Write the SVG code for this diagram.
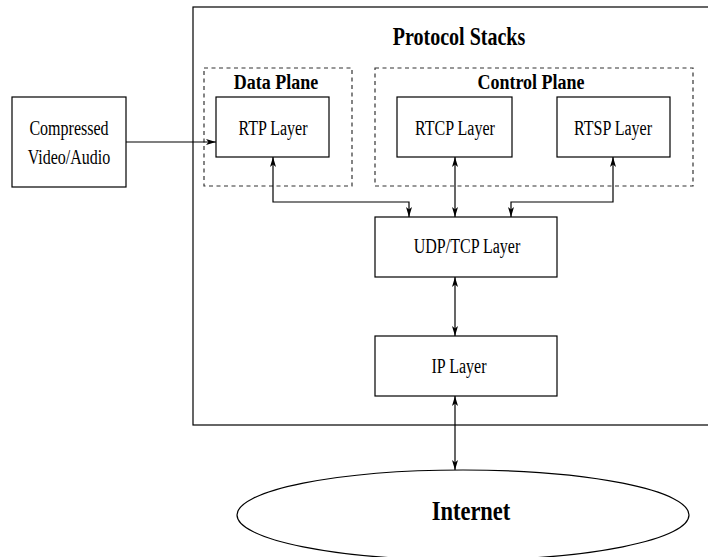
<svg xmlns="http://www.w3.org/2000/svg" width="708" height="557" viewBox="0 0 708 557">
  <style>
    .box { fill: #fff; stroke: #000; stroke-width: 1.2; }
    .frame { fill: none; stroke: #000; stroke-width: 1.2; }
    .dash { fill: none; stroke: #333; stroke-width: 1.2; stroke-dasharray: 4 3.5; }
    .lbl { font-family: "Liberation Serif", "Times New Roman", serif; font-size: 16px; fill: #000; text-anchor: middle; }
    .ttl { font-family: "Liberation Serif", "Times New Roman", serif; font-weight: bold; fill: #000; text-anchor: middle; }
    .wire { fill: none; stroke: #000; stroke-width: 1.2; marker-end: url(#head); }
    .both { marker-start: url(#tail); }
  </style>
  <defs>
    <marker id="head" viewBox="0 0 10 6" refX="10" refY="3" markerWidth="10" markerHeight="6" markerUnits="userSpaceOnUse" orient="auto">
      <path d="M0,0 L10,3 L0,6 L2.5,3 z" fill="#000"/>
    </marker>
    <marker id="tail" viewBox="0 0 10 6" refX="10" refY="3" markerWidth="10" markerHeight="6" markerUnits="userSpaceOnUse" orient="auto-start-reverse">
      <path d="M0,0 L10,3 L0,6 L2.5,3 z" fill="#000"/>
    </marker>
  </defs>
  <rect width="708" height="557" fill="#fff"/>

  <!-- protocol stack container -->
  <g id="protocol-stacks">
    <rect class="frame" x="193" y="7" width="530" height="418"/>
    <text class="ttl" font-size="20" transform="translate(459,45) scale(1,1.28)">Protocol Stacks</text>
  </g>

  <g id="data-plane">
    <rect class="dash" x="204" y="68" width="148" height="118"/>
    <text class="ttl" font-size="18" transform="translate(276,89) scale(1,1.2)">Data Plane</text>
  </g>

  <g id="control-plane">
    <rect class="dash" x="375" y="68" width="318" height="118"/>
    <text class="ttl" font-size="18" transform="translate(531,89) scale(1,1.2)">Control Plane</text>
  </g>

  <g id="compressed">
    <rect class="box" x="12" y="97" width="114" height="90"/>
    <text class="lbl" transform="translate(69,135) scale(1,1.25)">Compressed</text>
    <text class="lbl" transform="translate(69,164) scale(1,1.25)">Video/Audio</text>
  </g>

  <g id="rtp">
    <rect class="box" x="216" y="97" width="113" height="60"/>
    <text class="lbl" transform="translate(273,135) scale(1,1.25)">RTP Layer</text>
  </g>

  <g id="rtcp">
    <rect class="box" x="397" y="97" width="115" height="60"/>
    <text class="lbl" transform="translate(455,135) scale(1,1.25)">RTCP Layer</text>
  </g>

  <g id="rtsp">
    <rect class="box" x="557" y="97" width="113" height="60"/>
    <text class="lbl" transform="translate(613,135) scale(1,1.25)">RTSP Layer</text>
  </g>

  <g id="udp-tcp">
    <rect class="box" x="375" y="217" width="182" height="60"/>
    <text class="lbl" transform="translate(467,253) scale(1,1.25)">UDP/TCP Layer</text>
  </g>

  <g id="ip">
    <rect class="box" x="375" y="336" width="182" height="60"/>
    <text class="lbl" transform="translate(459,373) scale(1,1.25)">IP Layer</text>
  </g>

  <g id="internet">
    <ellipse class="box" cx="463" cy="515" rx="226" ry="45"/>
    <text class="ttl" font-size="22.5" transform="translate(471,520) scale(1,1.22)">Internet</text>
  </g>

  <!-- links between layers -->
  <g id="connectors">
    <path class="wire" d="M126,142 H216"/>
    <path class="wire both" d="M273,157 V202 H409 V217"/>
    <path class="wire both" d="M455,157 V217"/>
    <path class="wire both" d="M613,157 V202 H511 V217"/>
    <path class="wire both" d="M455,277 V336"/>
    <path class="wire both" d="M455,396 V470"/>
  </g>
</svg>
